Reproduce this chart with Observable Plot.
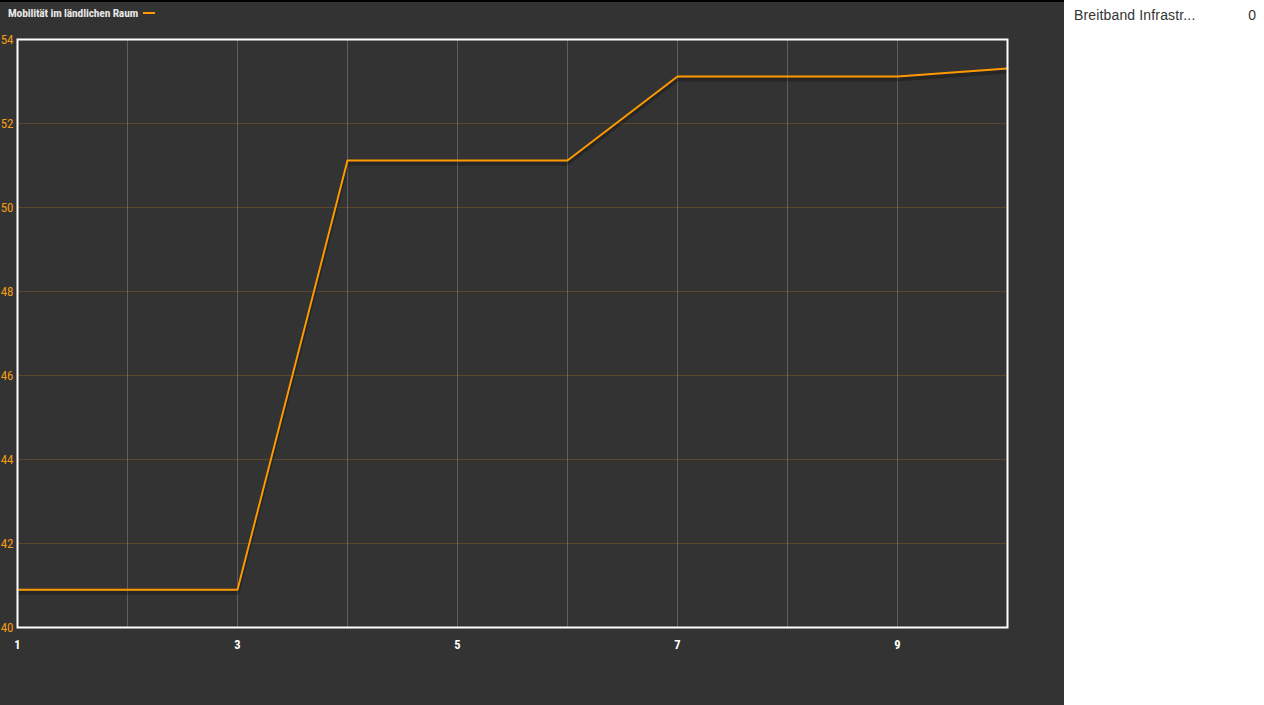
<!DOCTYPE html>
<html>
<head>
<meta charset="utf-8">
<script src="https://cdn.jsdelivr.net/npm/d3@7"></script>
<script src="https://cdn.jsdelivr.net/npm/@observablehq/plot@0.6"></script>
<style>
  html, body { margin: 0; padding: 0; background: #fff; }
  #wrap { position: relative; width: 1264px; height: 705px; overflow: hidden; }
  #chart { position: absolute; left: 0; top: 0; width: 1064px; height: 705px; background: #333; }
  #topline { position: absolute; left: 0; top: 0; width: 1064px; height: 2px; background: #000; }
  #title { position: absolute; left: 8px; top: 6px; font-family: "Liberation Sans Narrow", "Roboto Condensed", "Arial Narrow", sans-serif; font-weight: bold; font-size: 11.5px; color: #e6e6e6; white-space: nowrap; letter-spacing: -0.15px; }
  #title .dash { display: inline-block; width: 12px; height: 2px; background: #f90; vertical-align: middle; margin-left: 5px; margin-bottom: 2px; }
  #side { position: absolute; left: 1064px; top: 0; width: 200px; height: 705px; background: #fff; font-family: "Liberation Sans", Arial, sans-serif; font-size: 14px; color: #333; }
  #side .name { position: absolute; left: 10px; top: 7px; letter-spacing: 0.15px; }
  #side .val { position: absolute; right: 8px; top: 7px; }
</style>
</head>
<body>
<div id="wrap">
  <div id="chart"></div>
  <div id="topline"></div>
  <div id="title"></div>
  <div id="side"></div>
</div>
<script>
const seriesName = "Mobilität im ländlichen Raum";
const xValues = [1, 2, 3, 4, 5, 6, 7, 8, 9, 10];
const yValues = [40.9, 40.9, 40.9, 51.12, 51.12, 51.12, 53.12, 53.12, 53.12, 53.31];
const xTickLabels = [1, 3, 5, 7, 9];
const yTickLabels = [40, 42, 44, 46, 48, 50, 52, 54];
const xGrid = [1, 2, 3, 4, 5, 6, 7, 8, 9, 10];
const sideName = "Breitband Infrastr...";
const sideValue = "0";

const data = xValues.map((x, i) => ({x, y: yValues[i]}));

const narrow = '"Liberation Sans Narrow", "Roboto Condensed", "Arial Narrow", sans-serif';

const plot = Plot.plot({
  width: 1064,
  height: 705,
  marginLeft: 17,
  marginRight: 57,
  marginTop: 39,
  marginBottom: 78,
  style: { background: "transparent", fontFamily: narrow, overflow: "visible" },
  x: { domain: [1, 10], axis: null, label: null },
  y: { domain: [40, 54], axis: null, label: null },
  marks: [
    Plot.gridX(xGrid, { stroke: "#6a6a6a", strokeOpacity: 0.8, strokeWidth: 1 }),
    Plot.gridY(yTickLabels, { stroke: "#f90", strokeOpacity: 0.2, strokeWidth: 1 }),
    Plot.line(data, { x: "x", y: "y", stroke: "#000", strokeOpacity: 0.25, strokeWidth: 4, dy: 3 }),
    Plot.line(data, { x: "x", y: "y", stroke: "#f90", strokeWidth: 2 }),
    Plot.frame({ stroke: "#fff", strokeWidth: 2 }),
    Plot.axisY(yTickLabels, { label: null, tickSize: 0, tickPadding: 4, fill: "#f39c12", fontSize: 13, textAnchor: "end" }),
    Plot.axisX(xTickLabels, { label: null, tickSize: 0, tickPadding: 13, fill: "#fff", fontSize: 12.5, fontWeight: "bold" })
  ]
});
document.getElementById("chart").appendChild(plot);

const t = document.getElementById("title");
t.textContent = seriesName;
const dash = document.createElement("span");
dash.className = "dash";
t.appendChild(dash);

const side = document.getElementById("side");
side.innerHTML = `<span class="name"></span><span class="val"></span>`;
side.querySelector(".name").textContent = sideName;
side.querySelector(".val").textContent = sideValue;
</script>
</body>
</html>
